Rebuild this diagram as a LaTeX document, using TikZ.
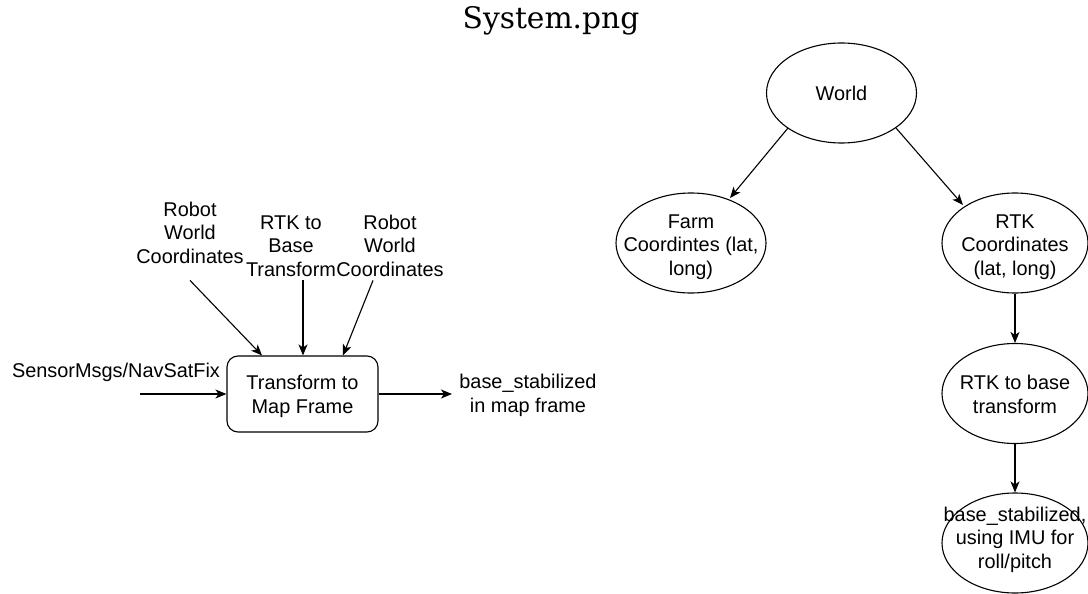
\documentclass[tikz,border=0pt]{standalone}
\usepackage{fontspec}
\setmainfont{Liberation Sans}
\newfontfamily\titlefont{DejaVu Serif}
\usetikzlibrary{arrows.meta,shapes.geometric}
\begin{document}
\begin{tikzpicture}[x=1pt,y=-1pt,
  lbl/.style={align=center,inner sep=0pt,anchor=base,font=\fontsize{19.9}{23.5}\selectfont},
  oval/.style={draw,ellipse,minimum width=150pt,minimum height=100pt,inner sep=0pt,line width=1.1pt},
  proc/.style={draw,rounded corners=11pt,minimum width=151pt,minimum height=76pt,inner sep=0pt,line width=1.1pt},
  arr/.style={-{Stealth[length=11pt,width=9pt,inset=3pt]},line width=1.1pt}]
\useasboundingbox (0,0) rectangle (1088,594);
\clip (0,0) rectangle (1088,594);
\fill[white] (0,0) rectangle (1088,594);

% heading
\node[inner sep=0pt,anchor=base,font=\titlefont\fontsize{29.7}{34}\selectfont] (title) at (551,29) {System.png};

% ---- transform block (label positions are last-line baselines) ----
\node[proc] (box) at (302.5,394) {};
\node[lbl] (boxtxt) at (302.5,413) {Transform to\\Map Frame};

\node[lbl] (robotA) at (190,263) {Robot\\World\\Coordinates};
\node[lbl] (rtkin) at (291,276) {RTK to\\Base\\Transform};
\node[lbl] (robotB) at (390,276) {Robot\\World\\Coordinates};
\node[lbl] (sensor) at (116,377) {SensorMsgs/NavSatFix};
\node[lbl] (outlbl) at (528,412) {base\_stabilized\\in map frame};

\coordinate (insrc) at (140,394);
\coordinate (outdst) at (452,394);

\draw[arr] ([yshift=-17pt]robotA.south) -- ([xshift=-40.5pt]box.north);
\draw[arr] ([xshift=12pt,yshift=-4pt]rtkin.south) -- ([xshift=0.5pt]box.north);
\draw[arr] ([xshift=-17pt,yshift=-4pt]robotB.south) -- ([xshift=40.5pt]box.north);
\draw[arr] (insrc) -- (box.west);
\draw[arr] (box.east) -- (outdst);

% ---- frame tree ----
\node[oval] (world) at (841.5,93) {};
\node[oval] (farm) at (691,243) {};
\node[oval,minimum width=146pt] (rtkc) at (1015,243) {};
\node[oval,minimum width=146pt] (rtkb) at (1015,393.5) {};
\node[oval,minimum width=146pt] (imu) at (1015,543) {};

\node[lbl] (worldtxt) at (841.5,101) {World};
\node[lbl] (farmtxt) at (691,275) {Farm\\Coordintes (lat,\\long)};
\node[lbl] (rtkctxt) at (1015,275) {RTK\\Coordinates\\(lat, long)};
\node[lbl] (rtkbtxt) at (1015,413) {RTK to base\\transform};
\node[lbl] (imutxt) at (1015,568) {base\_stabilized,\\using IMU for\\roll/pitch};

\draw[arr] ([shift={(-53.5pt,-35pt)}]world.center) -- ([shift={(39pt,45pt)}]farm.center);
\draw[arr] ([shift={(54.5pt,-35pt)}]world.center) -- ([shift={(-52pt,38pt)}]rtkc.center);
\draw[arr] (rtkc.south) -- (rtkb.north);
\draw[arr] (rtkb.south) -- (imu.north);
\end{tikzpicture}
\end{document}
